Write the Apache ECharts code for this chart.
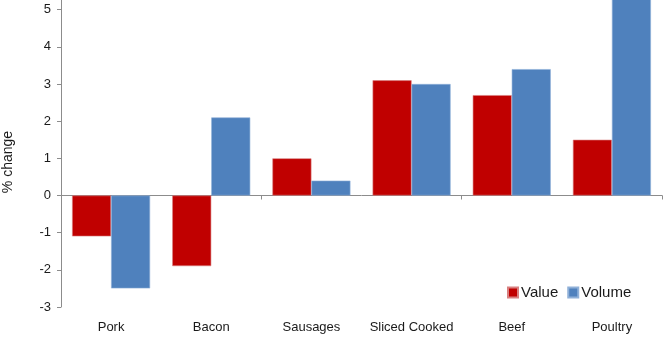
<!DOCTYPE html>
<html>
<head>
<meta charset="utf-8">
<script src="https://cdn.jsdelivr.net/npm/echarts@6/dist/echarts.min.js"></script>
<style>
  html, body { margin: 0; padding: 0; background: #fff; overflow: hidden; }
  #wrap { position: relative; width: 669px; height: 337px; overflow: hidden; }
  /* the plot runs up to 6; the band above 5 sits outside the visible frame */
  #chart { position: absolute; left: 0; top: -34px; width: 669px; height: 371px; }
</style>
</head>
<body>
<div id="wrap"><div id="chart"></div></div>
<script>
// Year-on-year % change by meat category
const categories = ['Pork', 'Bacon', 'Sausages', 'Sliced Cooked', 'Beef', 'Poultry'];
const valueChange = [-1.1, -1.9, 1.0, 3.1, 2.7, 1.5];
const volumeChange = [-2.5, 2.1, 0.4, 3.0, 3.4, 5.8];
const yTicks = { min: -3, max: 6, interval: 1 };

const FONT = 'Liberation Sans';
const chart = echarts.init(document.getElementById('chart'));

chart.setOption({
  animation: false,
  textStyle: { fontFamily: FONT },
  grid: { left: 61, right: 7, top: 0, bottom: 30 },
  legend: {
    left: 502, top: 314,
    itemWidth: 10, itemHeight: 10, itemGap: 9,
    icon: 'rect',
    textStyle: { fontFamily: FONT, fontSize: 15, color: '#1a1a1a', padding: [0, 0, 0, -2] },
    data: ['Value', 'Volume']
  },
  xAxis: [
    {
      type: 'category',
      data: categories,
      axisLine: { onZero: true, lineStyle: { color: '#8c8c8c', width: 1 } },
      axisTick: { show: true, length: 4, lineStyle: { color: '#8c8c8c' } },
      axisLabel: { show: false }
    },
    {
      type: 'category',
      data: categories,
      position: 'bottom',
      axisLine: { show: false, onZero: false },
      axisTick: { show: false },
      axisLabel: { interval: 0, margin: 14, fontSize: 13, color: '#1a1a1a', fontFamily: FONT }
    }
  ],
  yAxis: {
    type: 'value',
    min: yTicks.min, max: yTicks.max, interval: yTicks.interval,
    axisLine: { show: true, lineStyle: { color: '#8c8c8c', width: 1 } },
    axisTick: { show: true, length: 4, lineStyle: { color: '#8c8c8c' } },
    splitLine: { show: false },
    axisLabel: { margin: 10, fontSize: 13, color: '#1a1a1a', fontFamily: FONT }
  },
  graphic: [{
    type: 'text',
    x: 8, y: 196,
    rotation: Math.PI / 2,
    style: {
      text: '% change', fontSize: 14, fontFamily: FONT, fill: '#1a1a1a',
      textAlign: 'center', textVerticalAlign: 'middle'
    }
  }],
  series: [
    {
      name: 'Value', type: 'bar', data: valueChange,
      barWidth: 39, barGap: '0%',
      itemStyle: { color: '#C00000', borderColor: '#d88080', borderWidth: 0.6 }
    },
    {
      name: 'Volume', type: 'bar', data: volumeChange,
      barWidth: 39,
      itemStyle: { color: '#4F81BD', borderColor: '#8fb0d8', borderWidth: 0.6 }
    }
  ]
});
</script>
</body>
</html>
